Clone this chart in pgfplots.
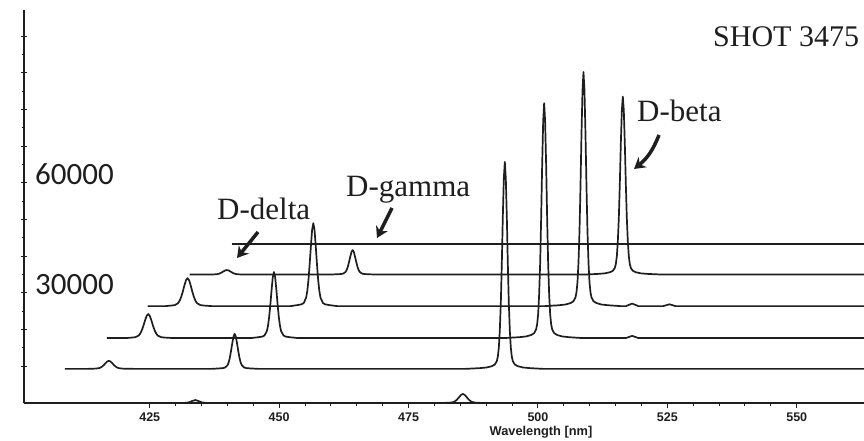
\documentclass[border=0pt]{standalone}
\usepackage{pgfplots}
\pgfplotsset{compat=1.18}
\usepackage{fontspec}
\setmainfont{Liberation Serif}
\newfontfamily\tsans{Liberation Sans}
\newfontfamily\calib{Carlito}
\usetikzlibrary{arrows.meta}
\definecolor{ink}{RGB}{30,30,30}
\tikzset{spec/.style={ink, line width=1.7pt, line join=round, mark=none}}
\begin{document}
\begin{tikzpicture}
\path[use as bounding box] (0,0) rectangle (864pt,441pt);
\begin{axis}[
  at={(24pt,38pt)}, anchor=south west,
  width=840pt, height=393pt, scale only axis,
  xmin=400.7, xmax=563, ymin=0, ymax=107100,
  axis x line=bottom, axis y line=left,
  axis line style={-, line width=1.8pt, color=ink},
  clip=false,
  xtick={425,450,475,500,525,550},
  minor x tick num=4,
  ytick={10000,20000,...,100000},
  yticklabels={}, scaled y ticks=false,
  minor y tick num=1,
  xtick align=outside, ytick align=center,
  tick style={color=ink, line width=1pt},
  major tick length=5pt, minor tick length=3pt,
  /pgf/number format/assume math mode=true,
  xticklabel style={font=\tsans\bfseries\fontsize{12.5}{14}\selectfont, anchor=north, inner sep=0pt, yshift=-5pt, text=ink},
  xlabel={Wavelength [nm]},
  xlabel style={at={(axis description cs:0.6155,0)}, anchor=north, yshift=-23pt, inner sep=0pt, font=\tsans\bfseries\fontsize{12.8}{14}\selectfont, text=ink},
]
% trace 0
\addplot[spec] coordinates {(400.7,0) (431.5,0) (432.5,150) (433.2,550) (433.8,800) (434.4,550) (435.1,150) (436.1,0)
 (481.0,0) (482.41,51) (483.03,91) (483.65,250) (483.95,451) (484.26,784) (484.57,1250) (484.88,1791) (485.19,2259) (485.5,2450)
 (485.81,2259) (486.12,1791) (486.43,1250) (486.74,784) (487.05,451) (487.35,250) (487.97,91) (488.59,51) (490,0) (563,0)};
% trace 1
\addplot[spec] coordinates {(408.6,9300) (413.0,9300)
 (414.01,9346) (414.63,9381) (415.25,9522) (415.55,9701) (415.86,9998) (416.17,10412) (416.48,10894) (416.79,11310) (417.1,11480)
 (417.41,11310) (417.72,10894) (418.03,10412) (418.34,9998) (418.65,9701) (418.96,9522) (419.57,9381) (420.19,9346) (422,9300)
 (437,9300) (438.39,9424) (439.08,9500) (439.55,9653) (440.01,10273) (440.24,11055) (440.47,12353) (440.70,14165) (440.94,16274) (441.17,18096) (441.4,18840)
 (441.63,18096) (441.86,16274) (442.10,14165) (442.33,12353) (442.56,11055) (442.79,10273) (443.26,9653) (443.72,9500) (444.41,9424) (446,9300)
 (486,9300) (488.77,9503) (490.12,9684) (491.09,10033) (491.67,10484) (492.05,11387) (492.25,12628) (492.44,15053) (492.63,19678) (492.83,27348) (493.02,38064) (493.21,50528) (493.41,61301) (493.6,65700)
 (493.79,61301) (493.99,50528) (494.18,38064) (494.37,27348) (494.57,19678) (494.76,15053) (494.95,12628) (495.15,11387) (495.53,10484) (496.11,10033) (497.08,9684) (498.43,9503) (501,9300) (563,9300)};
% trace 2
\addplot[spec] coordinates {(416.7,17700) (420.5,17700)
 (421.61,17837) (422.23,17942) (422.85,18367) (423.15,18903) (423.46,19793) (423.77,21035) (424.08,22481) (424.39,23730) (424.7,24240)
 (425.01,23730) (425.32,22481) (425.63,21035) (425.94,19793) (426.25,18903) (426.55,18367) (427.17,17942) (427.79,17837) (429.5,17700)
 (444.6,17700) (445.99,17934) (446.68,18078) (447.15,18366) (447.61,19536) (447.84,21012) (448.07,23460) (448.30,26880) (448.54,30858) (448.77,34296) (449.0,35700)
 (449.23,34296) (449.46,30858) (449.70,26880) (449.93,23460) (450.16,21012) (450.39,19536) (450.86,18366) (451.32,18078) (452.01,17934) (453.6,17700)
 (493.5,17700) (496.37,17930) (497.72,18135) (498.69,18532) (499.27,19044) (499.65,20068) (499.85,21476) (500.04,24228) (500.23,29476) (500.43,38180) (500.62,50340) (500.81,64484) (501.01,76708) (501.2,81700)
 (501.39,76708) (501.59,64484) (501.78,50340) (501.97,38180) (502.17,29476) (502.36,24228) (502.55,21476) (502.75,20068) (503.13,19044) (503.71,18532) (504.68,18135) (506.03,17930) (508.5,17700)
 (517,17700) (518.2,18300) (519.4,17700) (563,17700)};
% trace 3
\addplot[spec] coordinates {(424.6,26400) (428.0,26400)
 (429.21,26560) (429.83,26682) (430.45,27178) (430.75,27804) (431.06,28842) (431.37,30291) (431.68,31978) (431.99,33435) (432.3,34030)
 (432.61,33435) (432.92,31978) (433.23,30291) (433.54,28842) (433.85,27804) (434.15,27178) (434.77,26682) (435.39,26560) (437,26400)
 (452.2,26400) (453.59,26694) (454.28,26875) (454.75,27236) (455.21,28705) (455.44,30558) (455.67,33632) (455.90,37926) (456.14,42921) (456.37,47237) (456.6,49000)
 (456.83,47237) (457.06,42921) (457.30,37926) (457.53,33632) (457.76,30558) (457.99,28705) (458.46,27236) (458.92,26875) (459.61,26694) (461.2,26400)
 (501.3,26400) (503.97,26630) (505.32,26834) (506.29,27229) (506.87,27740) (507.25,28761) (507.45,30164) (507.64,32908) (507.83,38139) (508.03,46816) (508.22,58938) (508.41,73038) (508.61,85224) (508.8,90200)
 (508.99,85224) (509.19,73038) (509.38,58938) (509.57,46816) (509.77,38139) (509.96,32908) (510.15,30164) (510.35,28761) (510.73,27740) (511.31,27229) (512.28,26834) (513.63,26630) (516,26400)
 (517,26400) (518.2,27100) (519.4,26400) (524.2,26400) (525.4,26900) (526.6,26400) (563,26400)};
% trace 4
\addplot[spec] coordinates {(432.7,35000) (435.8,35000)
 (436.81,35026) (437.43,35046) (438.05,35125) (438.35,35226) (438.66,35394) (438.97,35627) (439.28,35899) (439.59,36134) (439.9,36230)
 (440.21,36134) (440.52,35899) (440.83,35627) (441.14,35394) (441.45,35226) (441.75,35125) (442.37,35046) (442.99,35026) (444,35000)
 (459.8,35000) (461.19,35087) (461.88,35140) (462.35,35247) (462.81,35681) (463.04,36229) (463.27,37138) (463.50,38407) (463.74,39883) (463.97,41159) (464.2,41680)
 (464.43,41159) (464.66,39883) (464.90,38407) (465.13,37138) (465.36,36229) (465.59,35681) (466.06,35247) (466.52,35140) (467.21,35087) (468.8,35000)
 (509,35000) (511.57,35175) (512.92,35330) (513.89,35631) (514.47,36019) (514.85,36795) (515.05,37862) (515.24,39947) (515.43,43924) (515.63,50520) (515.82,59735) (516.01,70454) (516.21,79717) (516.4,83500)
 (516.59,79717) (516.79,70454) (516.98,59735) (517.17,50520) (517.37,43924) (517.56,39947) (517.75,37862) (517.95,36795) (518.33,36019) (518.91,35631) (519.88,35330) (521.23,35175) (524,35000) (563,35000)};
% trace 5
\addplot[spec] coordinates {(440.8,43300) (563,43300)};
\end{axis}
% annotations
\node[anchor=base west, inner sep=0pt, text=ink, font=\fontsize{30}{30}\selectfont] at (713pt,394pt) {SHOT 3475};
\node[anchor=base west, inner sep=0pt, text=ink, font=\fontsize{31}{31}\selectfont] at (637pt,319pt) {D-beta};
\node[anchor=base west, inner sep=0pt, text=ink, font=\fontsize{31}{31}\selectfont] at (346pt,244pt) {D-gamma};
\node[anchor=base west, inner sep=0pt, text=ink, font=\fontsize{31}{31}\selectfont] at (217pt,221pt) {D-delta};
\node[anchor=base west, inner sep=0pt, text=ink, font=\calib\fontsize{31}{31}\selectfont] at (35pt,256pt) {60000};
\node[anchor=base west, inner sep=0pt, text=ink, font=\calib\fontsize{31}{31}\selectfont] at (35pt,146pt) {30000};
\draw[ink, line width=3.5pt, -{Stealth[length=11pt,width=13pt]}] (258pt,209pt) -- (237pt,183pt);
\draw[ink, line width=3.5pt, -{Stealth[length=11pt,width=13pt]}] (392pt,233pt) -- (377pt,203pt);
\draw[ink, line width=3.5pt, -{Stealth[length=11pt,width=13pt]}] (659pt,306pt) to[bend left=15] (634pt,272pt);
\end{tikzpicture}
\end{document}
